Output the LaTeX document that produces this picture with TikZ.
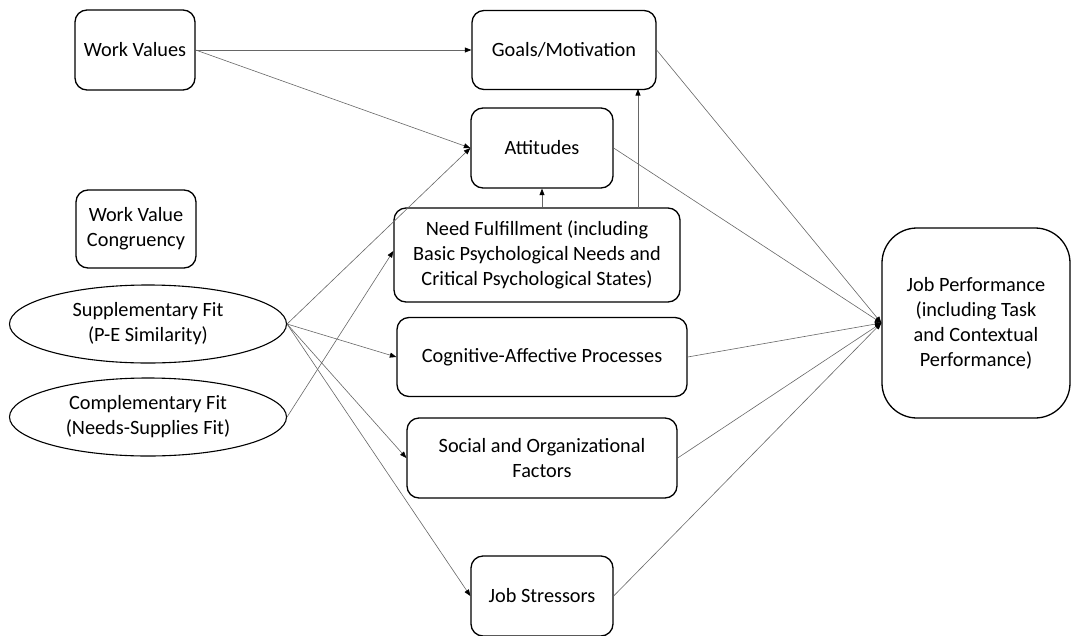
\documentclass[tikz,border=0pt]{standalone}
\usepackage{fontspec}
\setmainfont{Carlito}
\usetikzlibrary{arrows.meta,shapes.geometric}
\tikzset{
  lbl/.style={font=\fontsize{20.3}{25}\selectfont},
  box/.style={draw=black, line width=1.3pt, rounded corners=12pt, align=center,
    inner sep=0pt, lbl},
  oval/.style={draw=black, line width=1.1pt, ellipse, align=center, inner sep=0pt, lbl},
  link/.style={draw=black!60, line width=0.6pt,
    -{Triangle[length=6.5pt,width=5pt,color=black]}}
}
\begin{document}
\begin{tikzpicture}[x=1pt,y=-1pt]
\useasboundingbox (0,0) rectangle (1071,635);
% sources
\node[box, minimum width=120, minimum height=80] (wv) at (135,50) {Work Values};
\node[box, minimum width=120, minimum height=78] (wvc) at (136,229) {Work Value\\Congruency};
\node[oval, minimum width=277, minimum height=78] (sf) at (148,324) {Supplementary Fit\\(P-E Similarity)};
\node[oval, minimum width=277, minimum height=78] (cf) at (148,417) {Complementary Fit\\(Needs-Supplies Fit)};
% mediators
\node[box, minimum width=184, minimum height=79] (gm) at (564,50) {Goals/Motivation};
\node[box, minimum width=142, minimum height=80] (at) at (542,148) {Attitudes};
\node[box, minimum width=286, minimum height=94] (nf) at (537,255) {Need Fulfillment (including\\Basic Psychological Needs and\\Critical Psychological States)};
\node[box, minimum width=290, minimum height=79] (ca) at (542,357) {Cognitive-Affective Processes};
\node[box, minimum width=270, minimum height=80] (so) at (542,458) {Social and Organizational\\Factors};
\node[box, minimum width=142, minimum height=80] (js) at (542,596) {Job Stressors};
% outcome
\node[box, rounded corners=35pt, minimum width=188, minimum height=190] (jp) at (976,323) {Job Performance\\(including Task\\and Contextual\\Performance)};
% connection points
\coordinate (nfa) at ([xshift=5pt]nf.north);
\coordinate (nfg) at (638,208);
\coordinate (gmb) at (638,89);
% links
\draw[link] (wv.east) -- (gm.west);
\draw[link] (wv.east) -- (at.west);
\draw[link] (sf.east) -- (at.west);
\draw[link] (cf.east) -- ([yshift=4pt]nf.west);
\draw[link] (sf.east) -- (ca.west);
\draw[link] (sf.east) -- (so.west);
\draw[link] (sf.east) -- (js.west);
\draw[link] (nfa) -- (at.south);
\draw[link] (nfg) -- (gmb);
\draw[link] (gm.east) -- (jp.west);
\draw[link] (at.east) -- (jp.west);
\draw[link] (ca.east) -- (jp.west);
\draw[link] (so.east) -- (jp.west);
\draw[link] (js.east) -- (jp.west);
\end{tikzpicture}
\end{document}
